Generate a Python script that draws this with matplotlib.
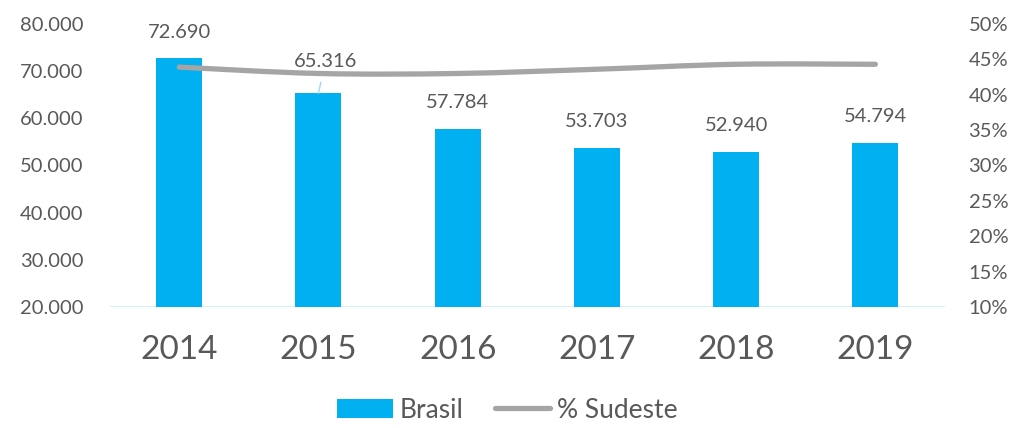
import numpy as np
import matplotlib
matplotlib.use('Agg')
from matplotlib import pyplot as plt
from matplotlib.path import Path
from matplotlib.patches import PathPatch, Patch
from matplotlib.lines import Line2D
from matplotlib.ticker import FuncFormatter

plt.rcParams['font.family'] = ['Lato', 'DejaVu Sans']

# Chart data.
years = ['2014', '2015', '2016', '2017', '2018', '2019']
brasil = [72690, 65316, 57784, 53703, 52940, 54794]
sudeste_pct = [43.9, 43.0, 43.0, 43.6, 44.3, 44.3]

BAR_COLOR = '#00B0F0'
LINE_COLOR = '#A5A5A5'
TEXT_COLOR = '#595959'


def thousands(v, pos):
    return '{:,.0f}'.format(v).replace(',', '.')


def smooth_path(xs, ys):
    # Catmull-Rom style bezier through the points, like Excel smoothed lines.
    pts = np.column_stack([xs, ys]).astype(float)
    verts = [pts[0]]
    codes = [Path.MOVETO]
    for i in range(len(pts) - 1):
        p0 = pts[i - 1] if i > 0 else pts[i]
        p1 = pts[i]
        p2 = pts[i + 1]
        p3 = pts[i + 2] if i + 2 < len(pts) else pts[i + 1]
        c1 = p1 + (p2 - p0) / 6.0
        c2 = p2 - (p3 - p1) / 6.0
        verts += [c1, c2, p2]
        codes += [Path.CURVE4] * 3
    return Path(verts, codes)


def main():
    fig = plt.figure(figsize=(10.15, 4.28), dpi=100)
    ax = fig.add_axes([0.108, 0.283, 0.823, 0.661])
    ax2 = ax.twinx()

    x = np.arange(len(years))
    ax.bar(x, brasil, width=0.33, color=BAR_COLOR, zorder=2)

    ax.set_xlim(-0.5, len(years) - 0.5)
    ax.set_ylim(20000, 80000)
    ax.set_yticks(np.arange(20000, 80001, 10000))
    ax.yaxis.set_major_formatter(FuncFormatter(thousands))
    ax.set_xticks(x)
    ax.set_xticklabels(years, fontsize=24, color=TEXT_COLOR)
    ax.tick_params(axis='x', length=0, pad=20)
    ax.tick_params(axis='y', length=0, pad=19, labelsize=14.5,
                   labelcolor=TEXT_COLOR)

    ax2.set_ylim(10, 50)
    ax2.set_yticks(np.arange(10, 51, 5))
    ax2.yaxis.set_major_formatter(FuncFormatter(lambda v, p: '%d%%' % v))
    ax2.tick_params(axis='y', length=0, pad=17, labelsize=14.5,
                    labelcolor=TEXT_COLOR)

    for a in (ax, ax2):
        for s in a.spines.values():
            s.set_visible(False)
    ax.axhline(20000, color='#D6F0FB', lw=1.5, zorder=1)

    # Smoothed percentage line on the secondary axis.
    ax2.add_patch(PathPatch(smooth_path(x, sudeste_pct), fill=False,
                            edgecolor=LINE_COLOR, lw=3.8,
                            capstyle='round', joinstyle='round', zorder=3))

    # Data labels.
    for i, v in enumerate(brasil):
        label = thousands(v, None)
        if i == 1:
            ax.annotate(label, xy=(i, v), xytext=(5, 23),
                        textcoords='offset points', ha='center', va='center',
                        fontsize=14.5, color=TEXT_COLOR, zorder=4,
                        arrowprops=dict(arrowstyle='-', color='#9BDCF5',
                                        lw=1, shrinkA=7, shrinkB=0))
        else:
            ax.annotate(label, xy=(i, v), xytext=(0, 19),
                        textcoords='offset points', ha='center', va='center',
                        fontsize=14.5, color=TEXT_COLOR, zorder=4)

    handles = [Patch(facecolor=BAR_COLOR, label='Brasil'),
               Line2D([], [], color=LINE_COLOR, lw=3.8,
                      solid_capstyle='round', label='% Sudeste')]
    leg = fig.legend(handles=handles, loc='center', ncol=2,
                     bbox_to_anchor=(0.5, 0.042), frameon=False,
                     fontsize=19, handlelength=2.1, handleheight=0.75,
                     columnspacing=1.2, handletextpad=0.25)
    for t in leg.get_texts():
        t.set_color(TEXT_COLOR)

    fig.savefig('out.png', dpi=100)


if __name__ == "__main__":
    main()
